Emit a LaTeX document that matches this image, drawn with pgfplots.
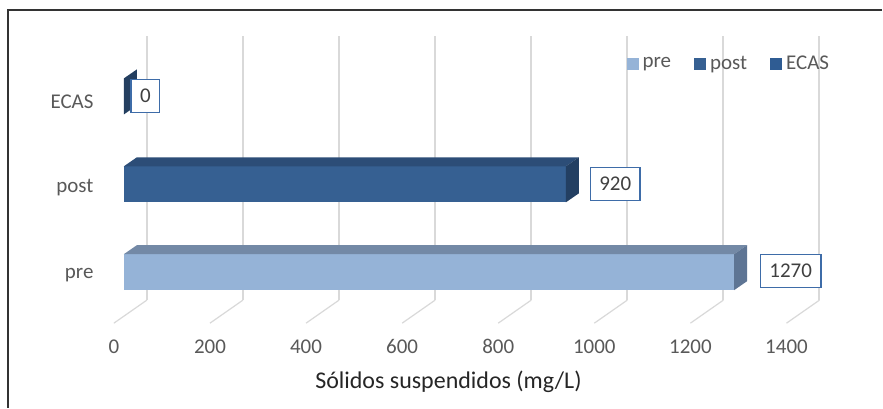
\documentclass[border=0pt]{standalone}
\usepackage{fontspec}
\setmainfont{Carlito}
\usepackage{pgfplots}
\pgfplotsset{compat=1.18}
\definecolor{preF}{HTML}{95B3D7}
\definecolor{preT}{HTML}{7389A6}
\definecolor{preS}{HTML}{5E7594}
\definecolor{postF}{HTML}{366092}
\definecolor{postT}{HTML}{2C4D77}
\definecolor{postS}{HTML}{233F62}
\definecolor{ecasF}{HTML}{2F5C93}
\definecolor{ecasS}{HTML}{243F60}
\definecolor{gridc}{HTML}{D9D9D9}
\definecolor{labc}{HTML}{595959}
\definecolor{dlab}{HTML}{404040}
\definecolor{boxc}{HTML}{3E6CA8}
\begin{document}
\begin{tikzpicture}
\begin{axis}[
  width=441.5pt, height=204pt, scale only axis,
  xmin=-257.8, xmax=1578, ymin=-1.540, ymax=3.097,
  hide axis, clip=false,
  legend style={at={(axis cs:1045.7,2.368)}, anchor=west, draw=none, fill=none,
    inner sep=0pt, font=\fontsize{10.5}{12}\selectfont, text=labc,
    legend columns=-1, /tikz/every even column/.append style={column sep=9.5pt}},
]
\fill[white] (rel axis cs:0,0) rectangle (rel axis cs:1,1);
\draw[black!80, line width=1pt] (rel axis cs:0.00906,0) -- (rel axis cs:0.00906,0.9755) -- (rel axis cs:1,0.9755);
% gridlines (back wall) and floor lines
\pgfplotsinvokeforeach{0,200,...,1400}{
  \draw[gridc, line width=1pt] (axis cs:#1+47.8,-0.318) -- (axis cs:#1+47.8,2.682);
  \draw[gridc, line width=0.6pt] (axis cs:#1+47.8,-0.318) -- (axis cs:#1-20.8,-0.580);
  \node[font=\fontsize{10.5}{12}\selectfont, text=labc] at (axis cs:#1-20.8,-0.847) {#1};
}
% front faces (data)
\addplot[xbar, bar width=0.41, bar shift=0pt, fill=preF, draw=none,
  legend image code/.code={\fill[preF] (0pt,-3pt) rectangle (6pt,3pt);}]
  coordinates {(1270,0)};
\addlegendentry{pre}
\addplot[xbar, bar width=0.41, bar shift=0pt, fill=postF, draw=none,
  legend image code/.code={\fill[postF] (0pt,-3pt) rectangle (6pt,3pt);}]
  coordinates {(920,1)};
\addlegendentry{post}
\addplot[xbar, bar width=0.41, bar shift=0pt, fill=ecasF, draw=none,
  legend image code/.code={\fill[ecasF] (0pt,-3pt) rectangle (6pt,3pt);}]
  coordinates {(0,2)};
\addlegendentry{ECAS}
% 3D top and side faces
\addplot[fill=preT, draw=none, forget plot] coordinates {(0,0.205) (1270,0.205) (1297,0.307) (27,0.307)} -- cycle;
\addplot[fill=preS, draw=none, forget plot] coordinates {(1270,-0.205) (1270,0.205) (1297,0.307) (1297,-0.103)} -- cycle;
\addplot[fill=postT, draw=none, forget plot] coordinates {(0,1.205) (920,1.205) (947,1.307) (27,1.307)} -- cycle;
\addplot[fill=postS, draw=none, forget plot] coordinates {(920,0.795) (920,1.205) (947,1.307) (947,0.897)} -- cycle;
\addplot[fill=ecasS, draw=none, forget plot] coordinates {(0,1.795) (0,2.205) (27,2.307) (27,1.897)} -- cycle;
% data labels
\tikzset{dl/.style={draw=boxc, line width=0.75pt, fill=white, text=dlab,
  font=\fontsize{10.5}{12}\selectfont, inner xsep=4.5pt, inner ysep=0pt, minimum height=16.5pt}}
\node[dl] at (axis cs:1387.9,0.011) {1270};
\node[dl] at (axis cs:1022.9,1.006) {920};
\node[dl] at (axis cs:44.7,2.006) {0};
% category labels
\tikzset{cl/.style={anchor=east, inner xsep=0pt, text=labc, font=\fontsize{10.5}{12}\selectfont}}
\node[cl] at (axis cs:-62.4,-0.028) {pre};
\node[cl] at (axis cs:-62.4,0.960) {post};
\node[cl] at (axis cs:-62.4,1.938) {ECAS};
% axis title
\node[text=black!85, font=\fontsize{12}{14}\selectfont] at (axis cs:675.7,-1.244) {Sólidos suspendidos (mg/L)};
\end{axis}
\end{tikzpicture}
\end{document}
